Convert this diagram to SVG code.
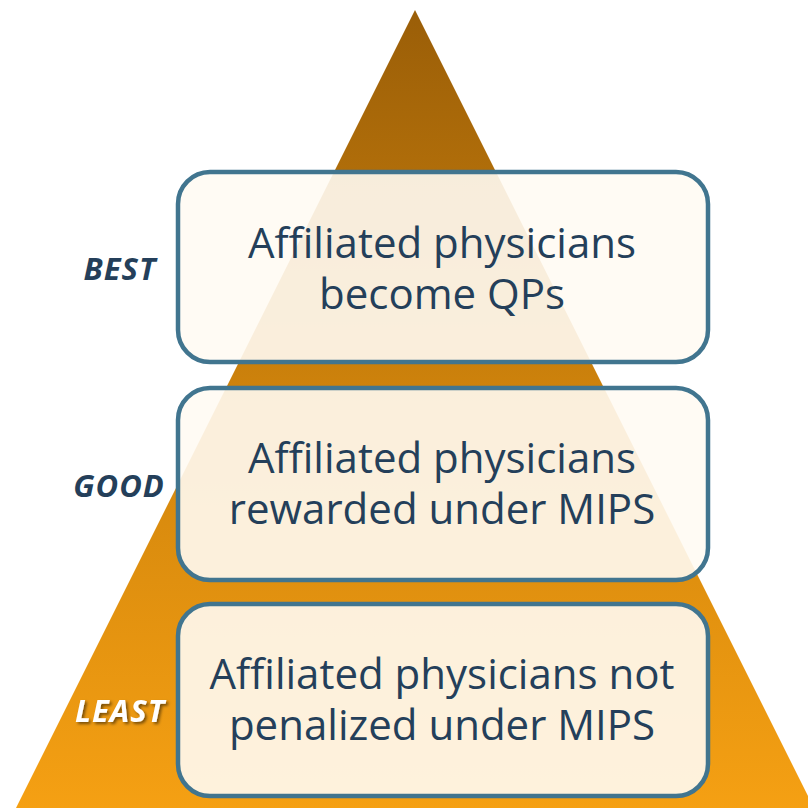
<svg xmlns="http://www.w3.org/2000/svg" width="808" height="808" viewBox="0 0 808 808">
<defs>
<linearGradient id="g" x1="0" y1="10" x2="0" y2="808" gradientUnits="userSpaceOnUse">
<stop offset="0" stop-color="#9A5E08"/>
<stop offset="0.5" stop-color="#D0840C"/>
<stop offset="1" stop-color="#F5A013"/>
</linearGradient>
<filter id="sh" x="-20%" y="-30%" width="140%" height="160%">
<feDropShadow dx="2" dy="2" stdDeviation="1.5" flood-color="#000" flood-opacity="0.5"/>
</filter>
</defs>
<style>
.box{fill:#FFFBF3;fill-opacity:0.9;stroke:#41758F;stroke-width:4.5}
.t{font-family:"Open Sans","Liberation Sans",sans-serif;font-size:42px;fill:#243F5A;text-anchor:middle}
.l{font-family:"Open Sans","Liberation Sans",sans-serif;font-size:31px;font-style:italic;font-weight:bold;fill:#243F5A;text-anchor:middle;letter-spacing:1px}
</style>
<polygon id="pyramid" points="415,10 814,808 16,808" fill="url(#g)"/>
<g id="best">
<rect class="box" x="178" y="172" width="530" height="190" rx="32"/>
<text class="t" x="442" y="258">Affiliated physicians<tspan x="442" dy="51">become QPs</tspan></text>
<text class="l" x="120" y="280">BEST</text>
</g>
<g id="good">
<rect class="box" x="178" y="388" width="530" height="192" rx="32"/>
<text class="t" x="442" y="473">Affiliated physicians<tspan x="442" dy="51">rewarded under MIPS</tspan></text>
<text class="l" x="119" y="497">GOOD</text>
</g>
<g id="least">
<rect class="box" x="178" y="604" width="530" height="192" rx="32"/>
<text class="t" x="442" y="689">Affiliated physicians not<tspan x="442" dy="51">penalized under MIPS</tspan></text>
<text class="l" x="120" y="722" style="fill:#FFFFFF" filter="url(#sh)">LEAST</text>
</g>
<g id="connectors"/>
</svg>
